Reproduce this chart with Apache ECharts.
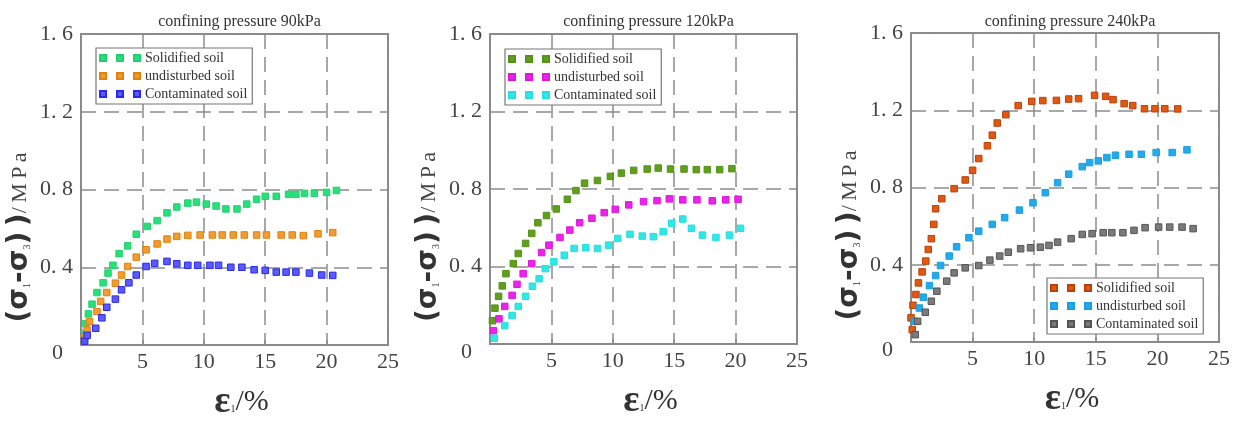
<!DOCTYPE html>
<html><head><meta charset="utf-8">
<script src="https://cdn.jsdelivr.net/npm/echarts@6/dist/echarts.min.js"></script>
<style>html,body{margin:0;padding:0;background:#fff}#c{width:1233px;height:427px}</style>
</head><body><div id="c"></div>
<script>
// ---------- DATA ----------
const titles = ['confining pressure 90kPa', 'confining pressure 120kPa', 'confining pressure 240kPa'];
const seriesNames = ['Solidified soil', 'undisturbed soil', 'Contaminated soil'];
const xTicks = [0, 5, 10, 15, 20, 25];
const yTickLabels = ['0', '0. 4', '0. 8', '1. 2', '1. 6'];

// Panel 1 (90 kPa)
const p1SolidX = [0.3,0.4,0.6,0.9,1.3,1.8,2.2,2.6,3.1,3.8,4.5,5.4,6.2,7.0,7.8,8.7,9.4,10.2,11.0,11.8,12.7,13.5,14.3,15.0,15.9,16.9,17.5,18.2,19.0,20.0,20.8];
const p1SolidY = [0.06,0.11,0.16,0.21,0.27,0.32,0.37,0.41,0.47,0.51,0.57,0.61,0.64,0.68,0.71,0.73,0.735,0.725,0.715,0.70,0.70,0.725,0.75,0.765,0.765,0.775,0.775,0.78,0.78,0.785,0.795];
const p1UndX = [0.3,0.5,0.7,1.3,1.6,2.1,2.8,3.3,3.8,4.5,5.3,6.2,7.0,7.8,8.7,9.7,10.7,11.5,12.4,13.3,14.3,15.1,16.3,17.2,18.1,19.3,20.5];
const p1UndY = [0.04,0.077,0.12,0.172,0.224,0.27,0.318,0.36,0.404,0.452,0.49,0.52,0.545,0.559,0.564,0.566,0.566,0.566,0.566,0.566,0.566,0.566,0.566,0.566,0.563,0.572,0.578];
const p1ConX = [0.3,0.5,1.2,1.7,2.1,2.8,3.3,3.9,4.5,5.3,6.0,7.0,7.8,8.7,9.5,10.5,11.2,12.2,13.1,14.1,15.0,15.9,16.7,17.5,18.6,19.6,20.5];
const p1ConY = [0.02,0.05,0.086,0.14,0.194,0.236,0.284,0.32,0.36,0.404,0.42,0.43,0.418,0.41,0.41,0.41,0.41,0.40,0.40,0.387,0.384,0.375,0.375,0.375,0.37,0.36,0.358];

// Panel 2 (120 kPa)
const p2SolidX = [0.2,0.4,0.7,1.0,1.3,1.9,2.3,2.9,3.4,3.9,4.6,5.4,6.3,7.0,7.7,8.75,9.8,10.7,11.7,12.8,13.7,14.7,15.8,16.8,17.7,18.7,19.7];
const p2SolidY = [0.12,0.185,0.246,0.30,0.363,0.415,0.467,0.519,0.571,0.626,0.663,0.697,0.747,0.792,0.83,0.844,0.865,0.882,0.896,0.903,0.908,0.903,0.903,0.90,0.90,0.90,0.905];
const p2UndX = [0.27,0.73,1.2,1.8,2.2,2.7,3.4,4.2,4.8,5.7,6.5,7.3,8.3,9.3,10.2,11.3,12.5,13.6,14.6,15.7,16.85,18.1,19.2,20.2];
const p2UndY = [0.069,0.13,0.194,0.251,0.308,0.363,0.415,0.472,0.51,0.55,0.588,0.626,0.649,0.678,0.695,0.718,0.735,0.74,0.749,0.744,0.744,0.739,0.744,0.747];
const p2ConX = [0.35,1.2,1.8,2.3,2.9,3.45,4.0,4.5,5.2,6.05,6.85,7.8,8.75,9.65,10.4,11.4,12.4,13.3,14.1,14.8,15.7,16.4,17.3,18.4,19.5,20.4];
const p2ConY = [0.03,0.095,0.147,0.194,0.246,0.298,0.337,0.389,0.424,0.458,0.493,0.497,0.493,0.51,0.545,0.566,0.557,0.554,0.58,0.623,0.645,0.597,0.562,0.55,0.562,0.597];

// Panel 3 (240 kPa)
const p3SolidX = [0.1,0.0,0.16,0.4,0.6,0.9,1.2,1.4,1.65,1.85,2.0,2.5,3.5,4.4,5.0,5.5,6.2,6.6,7.0,7.7,8.7,9.8,10.7,11.8,12.8,13.6,14.9,15.8,16.4,17.3,18.0,18.95,19.8,20.6,21.65];
const p3SolidY = [0.064,0.125,0.19,0.246,0.306,0.363,0.419,0.479,0.535,0.609,0.69,0.742,0.794,0.839,0.889,0.95,1.016,1.071,1.134,1.177,1.224,1.246,1.25,1.251,1.258,1.26,1.277,1.272,1.255,1.234,1.224,1.208,1.208,1.208,1.207];
const p3UndX = [0.27,0.68,1.0,1.5,2.0,2.4,3.1,3.7,4.7,5.5,6.6,7.6,8.8,9.9,10.9,11.9,12.8,13.9,14.5,15.2,15.9,16.6,17.7,18.7,19.9,21.2,22.4];
const p3UndY = [0.107,0.176,0.232,0.292,0.344,0.396,0.445,0.493,0.54,0.574,0.609,0.644,0.683,0.721,0.773,0.825,0.869,0.908,0.929,0.938,0.955,0.967,0.972,0.972,0.981,0.981,0.995];
const p3ConX = [0.35,0.54,1.16,1.65,2.1,2.9,3.5,4.4,5.5,6.4,7.2,7.9,8.9,9.7,10.5,11.2,11.9,13.0,13.9,14.7,15.6,16.3,17.2,18.1,19.0,20.1,21.0,22.0,22.9];
const p3ConY = [0.038,0.107,0.154,0.211,0.263,0.315,0.358,0.384,0.396,0.424,0.445,0.465,0.483,0.488,0.491,0.50,0.517,0.535,0.557,0.561,0.566,0.566,0.566,0.578,0.592,0.595,0.595,0.595,0.587];

// ---------- STYLE ----------
const panelData = [
  [[p1SolidX,p1SolidY],[p1UndX,p1UndY],[p1ConX,p1ConY]],
  [[p2SolidX,p2SolidY],[p2UndX,p2UndY],[p2ConX,p2ConY]],
  [[p3SolidX,p3SolidY],[p3UndX,p3UndY],[p3ConX,p3ConY]]
];
const colors = [
  [{c:'#28e07a',b:'#22d070'},{c:'#f29b2e',b:'#e0820e'},{c:'#5a5aff',b:'#2828ee'}],
  [{c:'#5f9f1c',b:'#55921a'},{c:'#ea22ea',b:'#dd18dd'},{c:'#30e6e6',b:'#28dede'}],
  [{c:'#e25812',b:'#b8420a'},{c:'#22aaea',b:'#1a9fe0'},{c:'#7a7a7a',b:'#555555'}]
];
const grids = [
  {left: 81, top: 34, width: 307, height: 311},
  {left: 490, top: 34, width: 307, height: 310},
  {left: 911, top: 33, width: 308, height: 309}
];
const legendPos = [
  {left: 96, top: 48},
  {left: 505, top: 49},
  {left: 1047, top: 278}
];
const serifFont = '"Liberation Serif", "DejaVu Serif", serif';
const gridLine = {show: true, lineStyle: {color: '#8c8c8c', width: 1.5, type: [15, 8]}};
const frame = {show: true, lineStyle: {color: '#8a8a8a', width: 2}};
const iconPath = 'path://M0,0h6v6h-6z M17,0h6v6h-6z M34,0h6v6h-6z';
const zw = ['', '\u200b', '\u200b\u200b'];
const ts = '\u2009';

const option = {
  backgroundColor: '#fff',
  animation: false,
  title: titles.map((t, i) => ({
    text: t,
    left: grids[i].left + grids[i].width / 2,
    textAlign: 'center',
    top: 9,
    textStyle: {fontFamily: serifFont, fontSize: 16, fontWeight: 'normal', color: '#333'}
  })),
  grid: grids.map(g => Object.assign({show: true, borderColor: '#8a8a8a', borderWidth: 2, backgroundColor: 'transparent'}, g)),
  xAxis: grids.map((g, i) => ({
    type: 'value', gridIndex: i, min: 0, max: 25, interval: 5,
    axisLine: frame,
    axisTick: {show: true, inside: true, length: 5, lineStyle: {color: '#8a8a8a', width: 1.5}},
    splitLine: gridLine,
    axisLabel: {
      fontFamily: serifFont, fontSize: 22, color: '#444', margin: 6,
      formatter: v => v === 0 ? '' : String(xTicks[xTicks.indexOf(v)])
    },
    name: '{e|ε}{s|1}{p|/%}',
    nameLocation: 'middle', nameGap: 38,
    nameTextStyle: {
      padding: [0, 0, 0, 14],
      rich: {
        e: {fontFamily: serifFont, fontSize: 38, fontWeight: 'bold', color: '#333'},
        s: {fontFamily: serifFont, fontSize: 10, color: '#333', padding: [14, 0, 0, 0]},
        p: {fontFamily: serifFont, fontSize: 30, color: '#333'}
      }
    }
  })),
  yAxis: grids.map((g, i) => ({
    type: 'value', gridIndex: i, min: 0, max: 1.6, interval: 0.4,
    axisLine: frame,
    axisTick: {show: false},
    splitLine: gridLine,
    axisLabel: {
      fontFamily: serifFont, fontSize: 22, color: '#444', margin: 8,
      formatter: v => {
        const idx = Math.round(v / 0.4);
        return idx === 0 ? '{z|' + yTickLabels[0] + '}' : yTickLabels[idx];
      },
      rich: {z: {fontFamily: serifFont, fontSize: 22, color: '#444', padding: [16, 10, 0, 0]}}
    },
    name: '{a|(σ}{s|1}{a|-σ}{s|3}{a|)' + ts + ')}{b|/' + ts + 'M' + ts + 'P' + ts + 'a}',
    nameLocation: 'middle', nameGap: 47, nameRotate: 90,
    nameTextStyle: {
      padding: [0, 96, 0, 0],
      rich: {
        a: {fontFamily: '"DejaVu Sans", sans-serif', fontSize: 28, fontWeight: 'bold', color: '#333'},
        s: {fontFamily: serifFont, fontSize: 10, color: '#333', padding: [14, 0, 0, 0]},
        b: {fontFamily: serifFont, fontSize: 22, color: '#444'}
      }
    }
  })),
  legend: legendPos.map((p, i) => ({
    left: p.left, top: p.top,
    orient: 'vertical',
    data: seriesNames.map(n => ({name: n + zw[i], icon: iconPath})),
    itemWidth: 40, itemHeight: 6, itemGap: 4,
    padding: [3, 5, 3, 3],
    borderColor: '#777', borderWidth: 1.2, backgroundColor: '#fff',
    formatter: n => n.replace(/\u200b/g, ''),
    textStyle: {fontFamily: serifFont, fontSize: 14, color: '#333', lineHeight: 14}
  })),
  series: []
};

panelData.forEach((panel, i) => {
  panel.forEach((xy, j) => {
    option.series.push({
      name: seriesNames[j] + zw[i],
      type: 'scatter',
      xAxisIndex: i, yAxisIndex: i,
      symbol: 'rect', symbolSize: 6.5,
      itemStyle: {color: colors[i][j].c, borderColor: colors[i][j].b, borderWidth: 1, opacity: 1},
      data: xy[0].map((x, k) => [x, xy[1][k]]),
      z: 5
    });
  });
});

const chart = echarts.init(document.getElementById('c'), null, {renderer: 'canvas'});
chart.setOption(option);
</script></body></html>
